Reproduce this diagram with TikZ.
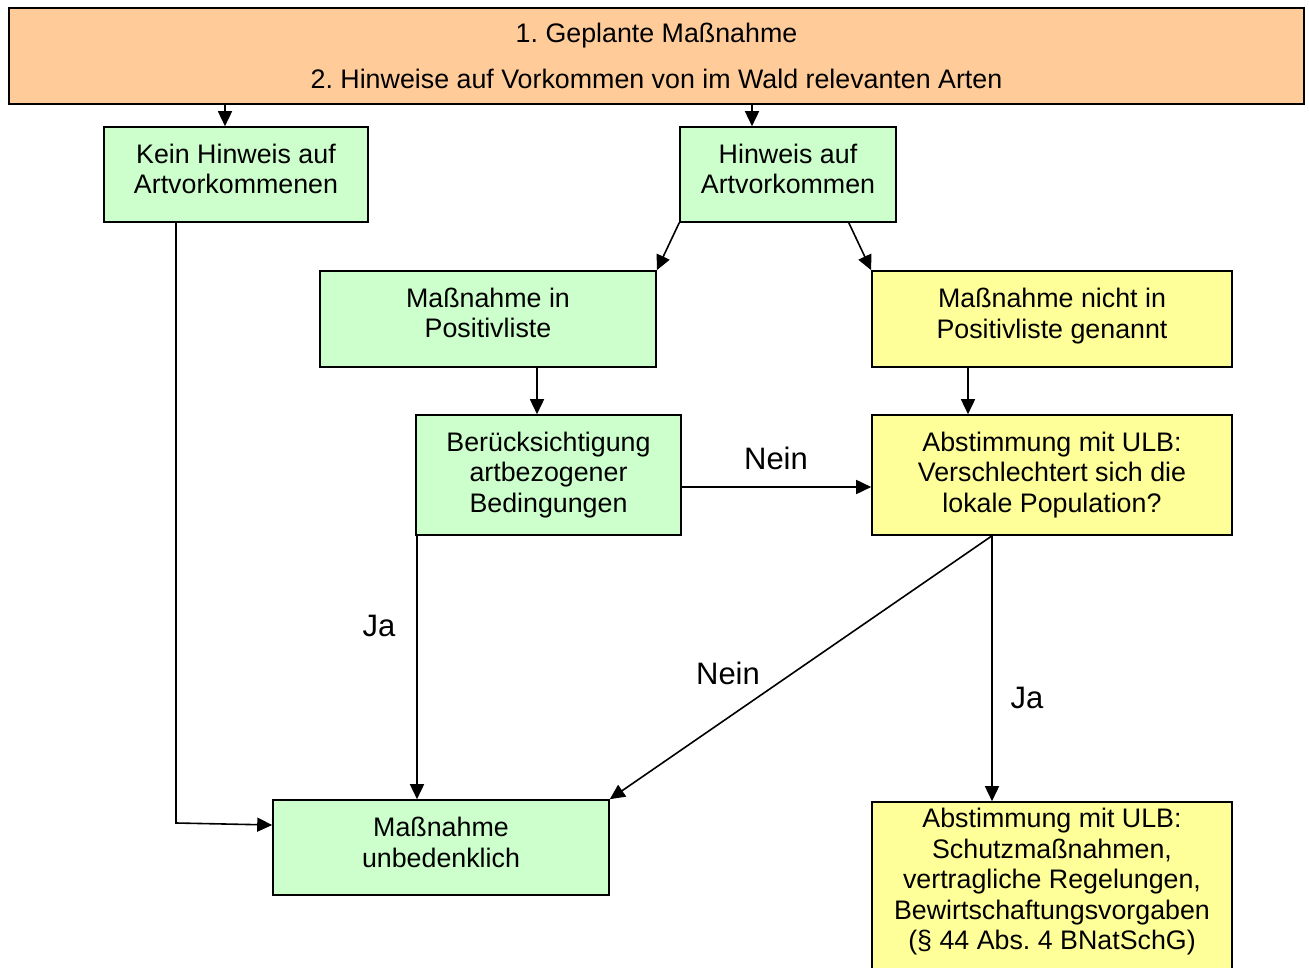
\documentclass[tikz,border=0pt]{standalone}
\usepackage{fontspec}
\setmainfont{Liberation Sans}
\usetikzlibrary{arrows.meta,calc}
\definecolor{orangebox}{HTML}{FFCC99}
\definecolor{greenbox}{HTML}{CCFFCC}
\definecolor{yellowbox}{HTML}{FFFF99}
\frenchspacing
\tikzset{
  boxbase/.style={draw=black, line width=1.6pt, inner sep=0pt},
  greenstep/.style={boxbase, fill=greenbox},
  yellowstep/.style={boxbase, fill=yellowbox},
  topstep/.style={boxbase, fill=orangebox, align=center, font=\fontsize{26.8}{30.5}\selectfont},
  txt/.style={inner sep=0pt, align=center, font=\fontsize{26.8}{30.5}\selectfont},
  arr/.style={line width=1.6pt, -{Triangle[length=15pt,width=14pt]}},
  lbl/.style={font=\fontsize{31}{36}\selectfont, inner sep=0pt}
}
\begin{document}
\begin{tikzpicture}[x=1pt,y=-1pt]
\clip (0,0) rectangle (1309,968);
\fill[white] (0,0) rectangle (1309,968);

\node[topstep, minimum width=1295pt, minimum height=96pt] (top) at (656.5,56)
  {1. Geplante Maßnahme\\[15pt]2. Hinweise auf Vorkommen von im Wald relevanten Arten};
\node[greenstep, minimum width=264pt, minimum height=95pt] (kein) at (236,174.5) {};
\node[greenstep, minimum width=216pt, minimum height=95pt] (hinweis) at (788,174.5) {};
\node[greenstep, minimum width=336pt, minimum height=96pt] (pos) at (488,319) {};
\node[yellowstep, minimum width=360pt, minimum height=96pt] (nicht) at (1052,319) {};
\node[greenstep, minimum width=265pt, minimum height=120pt] (ber) at (548.5,475) {};
\node[yellowstep, minimum width=360pt, minimum height=120pt] (abst) at (1052,475) {};
\node[greenstep, minimum width=336pt, minimum height=95pt] (unbed) at (441,847.5) {};
\node[yellowstep, minimum width=360pt, minimum height=198pt] (schutz) at (1052,901) {};

\node[txt] (keintxt) at ([yshift=5.5pt]kein.center) {Kein Hinweis auf\\Artvorkommenen};
\node[txt] (hinweistxt) at ([yshift=5.5pt]hinweis.center) {Hinweis auf\\Artvorkommen};
\node[txt] (postxt) at ([yshift=6pt]pos.center) {Maßnahme in\\Positivliste};
\node[txt] (nichttxt) at ([yshift=3pt]nicht.center) {Maßnahme nicht in\\Positivliste genannt};
\node[txt] (bertxt) at (ber.center) {Berücksichtigung\\artbezogener\\Bedingungen};
\node[txt] (absttxt) at (abst.center) {Abstimmung mit ULB:\\Verschlechtert sich die\\lokale Population?};
\node[txt] (unbedtxt) at ([yshift=5pt]unbed.center) {Maßnahme\\unbedenklich};
\node[txt] (schutztxt) at ([yshift=19pt]schutz.center) {Abstimmung mit ULB:\\Schutzmaßnahmen,\\vertragliche Regelungen,\\Bewirtschaftungsvorgaben\\(§ 44 Abs. 4 BNatSchG)};

\draw[arr] (225,0 |- top.south) -- (225,0 |- kein.north);
\draw[arr] (752,0 |- top.south) -- (752,0 |- hinweis.north);
\draw[arr] (hinweis.south west) -- (pos.north east);
\draw[arr] ([xshift=-48pt]hinweis.south east) -- (nicht.north west);
\draw[arr] (537,0 |- pos.south) -- (537,0 |- ber.north);
\draw[arr] (968,0 |- nicht.south) -- (968,0 |- abst.north);
\draw[arr] ([yshift=-12pt]ber.east) -- ([yshift=-12pt]abst.west);
\draw[arr] (417,0 |- ber.south) -- (417,0 |- unbed.north);
\draw[arr] (992,0 |- abst.south) -- (992,0 |- schutz.north);
\draw[arr] (992,0 |- abst.south) -- (unbed.north east);
\draw[arr] (176,0 |- kein.south) -- (176,823) -- ([yshift=22.5pt]unbed.west);

\node[lbl] (l1) at (776,458) {Nein};
\node[lbl] (l2) at (379,626) {Ja};
\node[lbl] (l3) at (728,673) {Nein};
\node[lbl] (l4) at (1027,698) {Ja};
\end{tikzpicture}
\end{document}
